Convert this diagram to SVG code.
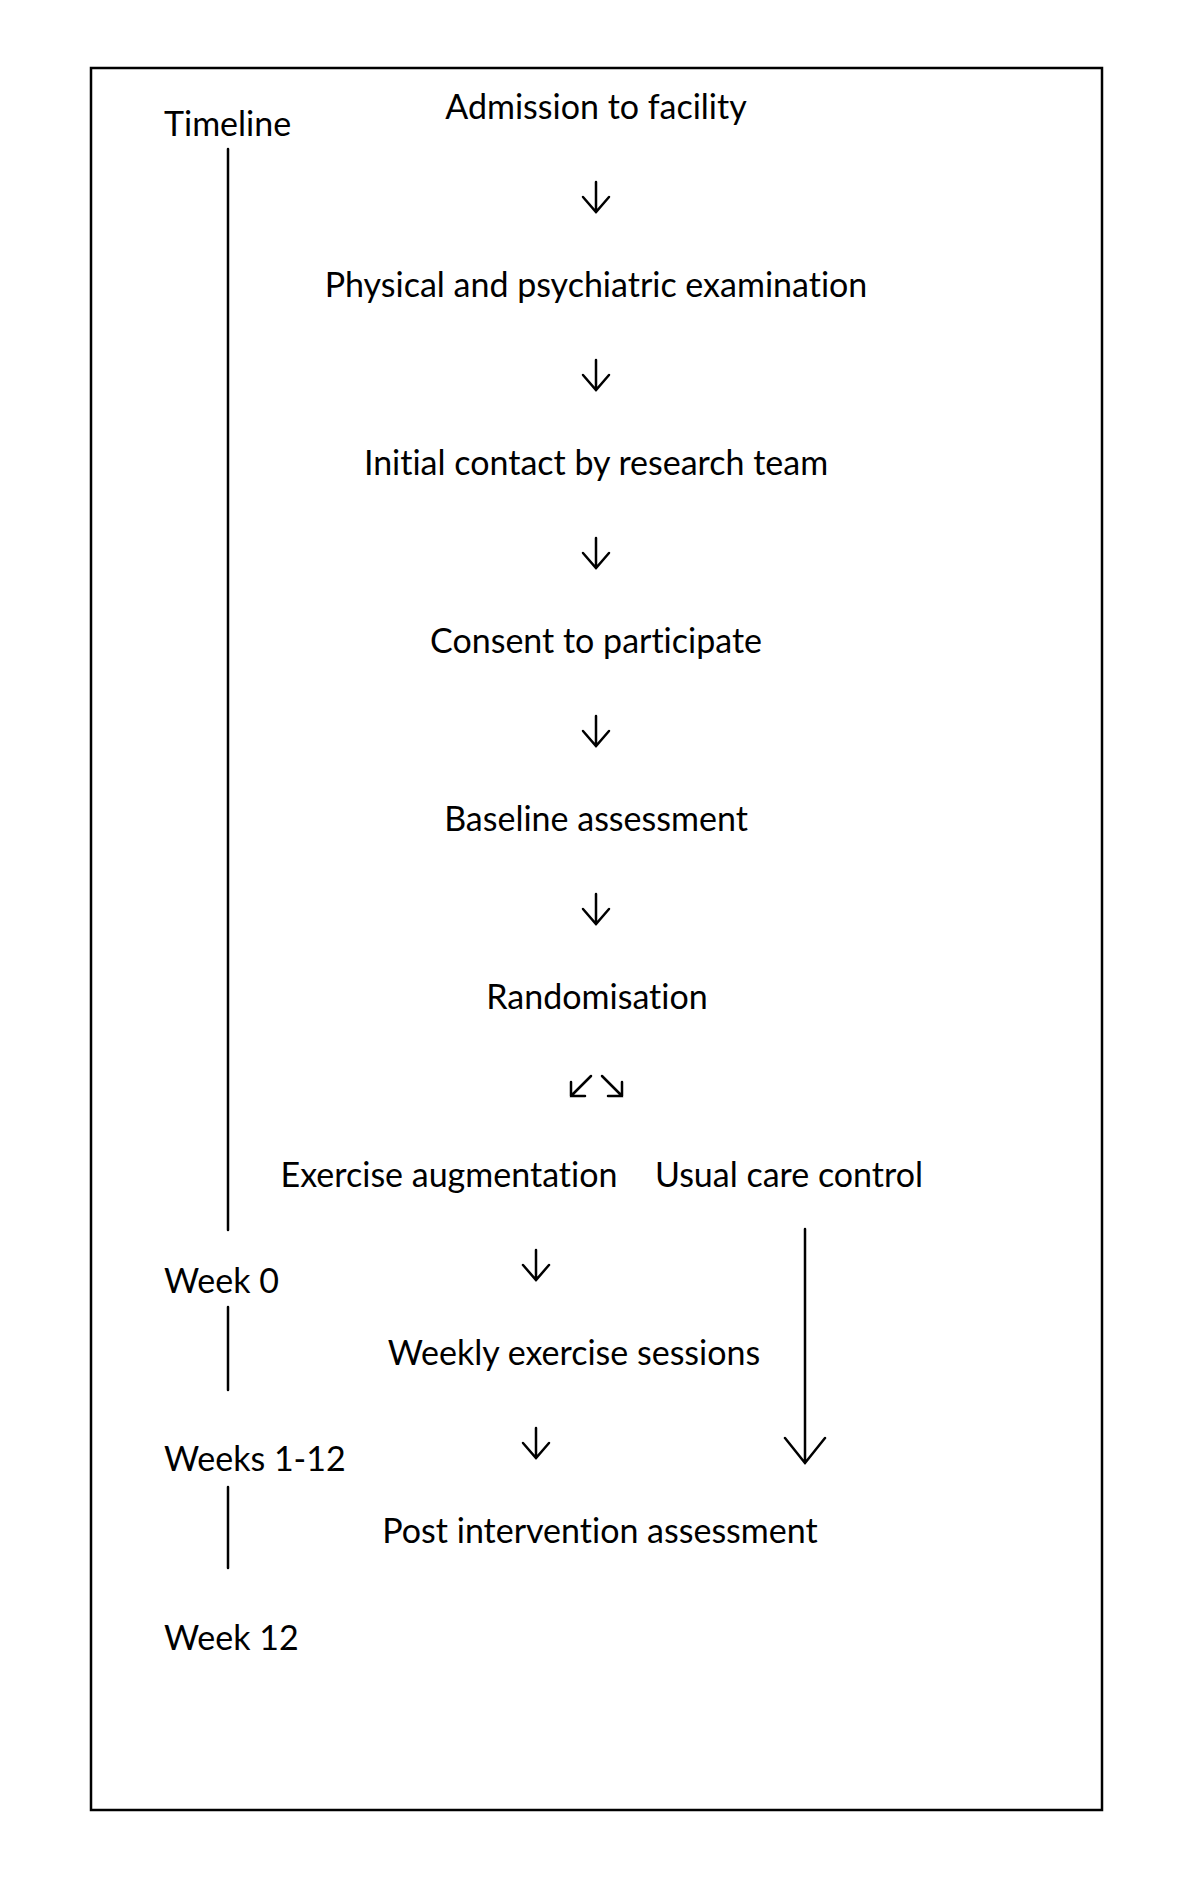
<svg xmlns="http://www.w3.org/2000/svg" width="1200" height="1900" viewBox="0 0 1200 1900">
<defs>
<style>
text{font-family:Lato,"Open Sans","Liberation Sans",sans-serif;font-size:34px;fill:#000;font-variant-ligatures:none;font-feature-settings:"liga" 0,"dlig" 0}
.c{text-anchor:middle}
.ln{stroke:#000;stroke-width:2.5;fill:none;stroke-linecap:round;stroke-linejoin:miter}
</style>
</defs>
<rect x="91" y="68" width="1011" height="1742" fill="#fff" stroke="#000" stroke-width="2.5"/>
<g id="timeline">
<text x="164" y="136">Timeline</text>
<text x="164" y="1293">Week 0</text>
<text x="164" y="1471">Weeks 1-12</text>
<text x="164" y="1650">Week 12</text>
<line class="ln" x1="228" y1="149" x2="228" y2="1230"/>
<line class="ln" x1="228" y1="1307" x2="228" y2="1390"/>
<line class="ln" x1="228" y1="1487" x2="228" y2="1568"/>
</g>
<g id="n1"><text class="c" x="596" y="119">Admission to facility</text></g>
<g id="n2"><text class="c" x="596" y="297">Physical and psychiatric examination</text></g>
<g id="n3"><text class="c" x="596" y="475">Initial contact by research team</text></g>
<g id="n4"><text class="c" x="596" y="653">Consent to participate</text></g>
<g id="n5"><text class="c" x="596" y="831">Baseline assessment</text></g>
<g id="n6"><text class="c" x="597" y="1009">Randomisation</text></g>
<g id="n7"><text class="c" x="449" y="1187">Exercise augmentation</text></g>
<g id="n8"><text class="c" x="789" y="1187">Usual care control</text></g>
<g id="n9"><text class="c" x="574" y="1365">Weekly exercise sessions</text></g>
<g id="n10"><text class="c" x="600" y="1543">Post intervention assessment</text></g>
<g id="connectors">
<path class="ln" d="M596 182V212M583 197L596 212L609 197"/>
<path class="ln" d="M596 360V390M583 375L596 390L609 375"/>
<path class="ln" d="M596 538V568M583 553L596 568L609 553"/>
<path class="ln" d="M596 716V746M583 731L596 746L609 731"/>
<path class="ln" d="M596 894V924M583 909L596 924L609 909"/>
<path class="ln" d="M591 1076L571 1096M571 1082V1096H585"/>
<path class="ln" d="M602 1076L622 1096M608 1096H622V1082"/>
<path class="ln" d="M536 1250V1280M523 1265L536 1280L549 1265"/>
<path class="ln" d="M536 1428V1458M523 1443L536 1458L549 1443"/>
<path class="ln" d="M805 1229V1463M785 1438L805 1463L825 1438"/>
</g>
</svg>
